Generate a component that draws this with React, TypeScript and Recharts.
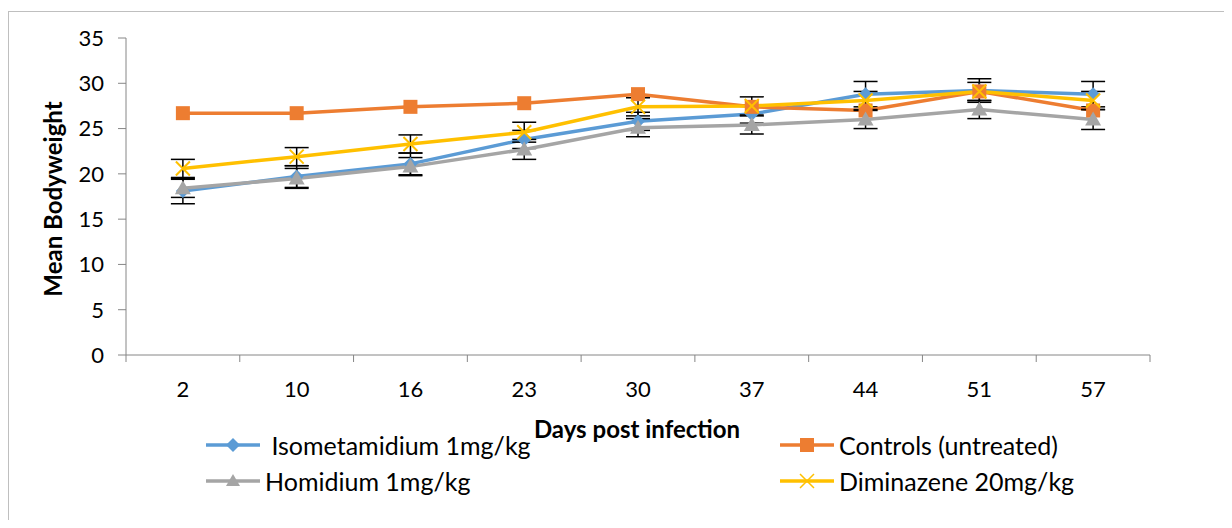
import { LineChart, Line, XAxis, YAxis, ErrorBar } from 'recharts';

// days post infection (categories)
const days = ['2', '10', '16', '23', '30', '37', '44', '51', '57'];

const isometamidium = [18.1, 19.7, 21.1, 23.8, 25.8, 26.6, 28.8, 29.2, 28.8];
const isometamidiumErr = [1.4, 1.2, 1.2, 1.0, 1.0, 1.0, 1.4, 1.3, 1.4];
const controls = [26.7, 26.7, 27.4, 27.8, 28.8, 27.4, 27.0, 29.1, 27.0];
const homidium = [18.4, 19.5, 20.8, 22.7, 25.1, 25.4, 26.0, 27.1, 26.0];
const homidiumErr = [1.0, 1.1, 1.0, 1.1, 1.0, 1.0, 1.0, 1.0, 1.1];
const diminazene = [20.6, 21.9, 23.3, 24.6, 27.4, 27.5, 28.1, 29.1, 28.1];
const diminazeneErr = [1.0, 1.0, 1.0, 1.1, 1.0, 1.0, 1.0, 1.0, 1.0];

const yTicks = [0, 5, 10, 15, 20, 25, 30, 35];

const data = days.map((d, i) => ({
  idx: i,
  day: d,
  iso: isometamidium[i],
  isoErr: isometamidiumErr[i],
  ctrl: controls[i],
  hom: homidium[i],
  homErr: homidiumErr[i],
  dim: diminazene[i],
  dimErr: diminazeneErr[i],
}));

const BLUE = '#5B9BD5';
const ORANGE = '#ED7D31';
const GRAY = '#A5A5A5';
const YELLOW = '#FFC000';
const AXIS = '#868686';
const FONT = 'Lato, "Open Sans", sans-serif';

const PLOT_W = 1024;
const BAND = PLOT_W / days.length;

const Diamond = ({ cx, cy }: any) => (
  <path d={`M${cx},${cy - 7} L${cx + 7},${cy} L${cx},${cy + 7} L${cx - 7},${cy} Z`} fill={BLUE} />
);
const Square = ({ cx, cy }: any) => (
  <rect x={cx - 7} y={cy - 7} width={14} height={14} fill={ORANGE} />
);
const Triangle = ({ cx, cy }: any) => (
  <path d={`M${cx},${cy - 8} L${cx + 8},${cy + 6} L${cx - 8},${cy + 6} Z`} fill={GRAY} />
);
const Cross = ({ cx, cy }: any) => (
  <path
    d={`M${cx - 7},${cy - 7} L${cx + 7},${cy + 7} M${cx - 7},${cy + 7} L${cx + 7},${cy - 7}`}
    stroke={YELLOW}
    strokeWidth={2}
  />
);

const XTick = ({ x, y, payload, index }: any) => (
  <g>
    <line x1={x - BAND / 2} y1={y} x2={x - BAND / 2} y2={y + 7} stroke={AXIS} />
    {index === days.length - 1 && (
      <line x1={x + BAND / 2} y1={y} x2={x + BAND / 2} y2={y + 7} stroke={AXIS} />
    )}
    <text x={x} y={y + 42} textAnchor="middle" fontSize={22} fill="#000" fontFamily={FONT}>
      {days[payload.value]}
    </text>
  </g>
);

const legendItems = [
  { name: ' Isometamidium 1mg/kg', color: BLUE, marker: 'diamond', left: 197, top: 422 },
  { name: 'Controls (untreated)', color: ORANGE, marker: 'square', left: 771, top: 422 },
  { name: 'Homidium 1mg/kg', color: GRAY, marker: 'triangle', left: 197, top: 458 },
  { name: 'Diminazene 20mg/kg', color: YELLOW, marker: 'cross', left: 771, top: 458 },
];

function LegendIcon({ color, marker }: { color: string; marker: string }) {
  return (
    <svg width={56} height={20} style={{ display: 'block' }}>
      <line x1={1} y1={10} x2={55} y2={10} stroke={color} strokeWidth={3.5} />
      {marker === 'diamond' && <path d="M28,3 L35,10 L28,17 L21,10 Z" fill={color} />}
      {marker === 'square' && <rect x={21} y={3} width={14} height={14} fill={color} />}
      {marker === 'triangle' && <path d="M28,3 L35,15 L21,15 Z" fill={color} />}
      {marker === 'cross' && (
        <path d="M21,3 L35,17 M21,17 L35,3" stroke={color} strokeWidth={1.5} />
      )}
    </svg>
  );
}

export default function App() {
  return (
    <div style={{ position: 'relative', width: 1224, height: 512, overflow: 'hidden', fontFamily: FONT }}>
      <div
        style={{
          position: 'absolute',
          left: 0,
          top: 3,
          width: 1221,
          height: 520,
          border: '1px solid #BFBFBF',
          boxSizing: 'border-box',
        }}
      />
      <LineChart
        width={1224}
        height={512}
        data={data}
        margin={{ top: 30, right: 82, bottom: 135, left: 58 }}
        style={{ position: 'absolute', left: 0, top: 0 }}
      >
        <XAxis
          dataKey="idx"
          type="number"
          domain={[-0.5, days.length - 0.5]}
          ticks={data.map((d) => d.idx)}
          interval={0}
          tickLine={false}
          tickSize={0}
          tickMargin={0}
          height={30}
          axisLine={{ stroke: AXIS }}
          tick={<XTick />}
        />
        <YAxis
          domain={[0, 35]}
          ticks={yTicks}
          width={60}
          tickSize={8}
          tickMargin={14}
          axisLine={{ stroke: AXIS }}
          tickLine={{ stroke: AXIS }}
          tick={{ fontSize: 22, fill: '#000', fontFamily: FONT }}
        />
        <Line
          dataKey="iso"
          stroke={BLUE}
          strokeWidth={3.5}
          dot={<Diamond />}
          isAnimationActive={false}
        >
          <ErrorBar dataKey="isoErr" direction="y" width={12} stroke="#000" strokeWidth={1.5} />
        </Line>
        <Line
          dataKey="ctrl"
          stroke={ORANGE}
          strokeWidth={3.5}
          dot={<Square />}
          isAnimationActive={false}
        />
        <Line
          dataKey="hom"
          stroke={GRAY}
          strokeWidth={3.5}
          dot={<Triangle />}
          isAnimationActive={false}
        >
          <ErrorBar dataKey="homErr" direction="y" width={12} stroke="#000" strokeWidth={1.5} />
        </Line>
        <Line
          dataKey="dim"
          stroke={YELLOW}
          strokeWidth={3.5}
          dot={<Cross />}
          isAnimationActive={false}
        >
          <ErrorBar dataKey="dimErr" direction="y" width={12} stroke="#000" strokeWidth={1.5} />
        </Line>
      </LineChart>

      {/* axis titles */}
      <div
        style={{
          position: 'absolute',
          left: 479,
          top: 406,
          width: 300,
          textAlign: 'center',
          fontWeight: 'bold',
          fontSize: 24,
          whiteSpace: 'nowrap',
        }}
      >
        Days post infection
      </div>
      <div
        style={{
          position: 'absolute',
          left: 44,
          top: 191,
          width: 0,
          height: 0,
        }}
      >
        <div
          style={{
            position: 'absolute',
            transform: 'translate(-50%, -50%) rotate(-90deg)',
            fontWeight: 'bold',
            fontSize: 24,
            whiteSpace: 'nowrap',
          }}
        >
          Mean Bodyweight
        </div>
      </div>

      {/* legend */}
      {legendItems.map((it) => (
        <div
          key={it.name}
          style={{
            position: 'absolute',
            left: it.left,
            top: it.top,
            display: 'flex',
            alignItems: 'center',
            fontSize: 25,
            whiteSpace: 'pre',
          }}
        >
          <LegendIcon color={it.color} marker={it.marker} />
          <span style={{ marginLeft: 4 }}>{it.name}</span>
        </div>
      ))}
    </div>
  );
}
